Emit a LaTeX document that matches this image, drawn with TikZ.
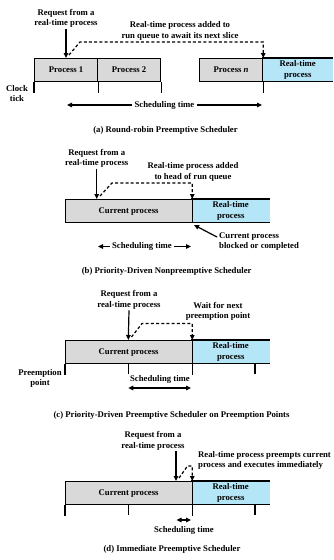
\documentclass[tikz,border=0pt]{standalone}
\usepackage{fontspec}
\setmainfont{Liberation Serif}
\usetikzlibrary{arrows.meta,calc}
\definecolor{procgray}{HTML}{D9D9D9}
\definecolor{rtblue}{HTML}{B4E6F7}
\begin{document}
\begin{tikzpicture}[x=1pt,y=-1pt,
  font=\fontsize{8.7}{10.5}\selectfont\bfseries,
  box/.style={draw=black, line width=1.2pt, fill=procgray, minimum height=23pt,
    inner sep=0pt, align=center, anchor=north west},
  rtbox/.style={draw=none, fill=rtblue, minimum height=23pt, inner sep=0pt,
    align=center, anchor=north west},
  edge/.style={line width=1.2pt},
  tick/.style={line width=1.2pt},
  txt/.style={align=center, inner sep=1pt},
  arr/.style={line width=1.2pt, -{Triangle[length=5pt,width=4.5pt]}},
  dasharr/.style={line width=1.2pt, dash pattern=on 3pt off 2.2pt, -{Triangle[length=5pt,width=4.5pt]}},
  dblarr/.style={line width=1.2pt, {Triangle[length=5pt,width=4.5pt]}-{Triangle[length=5pt,width=4.5pt]}}
]
\useasboundingbox (0,0) rectangle (333,560);

% ---------------- (a) ----------------
\node[box, minimum width=63pt] (a1) at (34,58) {Process 1};
\node[box, minimum width=63pt] (a2) at (97,58) {Process 2};
\node[rtbox, minimum width=71pt] (art) at (262,58) {Real-time\\process};
\node[box, minimum width=63pt] (an) at (199,58) {Process \textit{n}};
\draw[edge] (art.north west) -- (art.north east);
\draw[edge] (art.south west) -- (art.south east);
\draw[tick] (a1.south west) -- ++(0,11);
\draw[tick] (a1.south east) -- ++(0,11);
\draw[tick] (a2.south east) -- ++(0,11);
\draw[tick] (an.south east) -- ++(0,11);
\node[txt] (aclock) at (17,93.5) {Clock\\tick};
\node[txt] (areq) at (66,18.5) {Request from a\\real-time process};
\coordinate (areqtip) at (66,58);
\draw[arr] (areq.south) -- (areqtip);
\node[txt] (aadd) at (180,31) {Real-time process added to\\run queue to await its next slice};
\draw[dasharr] (69,55) -- (80,42) -| (an.north east);
\node[txt, fill=white, inner sep=2pt] (ast) at (164.5,105) {Scheduling time};
\coordinate (asl) at (67,105);
\coordinate (asr) at (262,105);
\draw[arr] (ast.west) -- (asl);
\draw[arr] (ast.east) -- (asr);
\node[txt] (acap) at (165.5,130) {(a) Round-robin Preemptive Scheduler};

% ---------------- (b) ----------------
\node[box, minimum width=126pt] (bcur) at (65,199) {Current process};
\node[rtbox, minimum width=79pt] (brt) at (191,199) {Real-time\\process};
\draw[edge] (brt.north west) -- (brt.north east);
\draw[edge] (brt.south west) -- (brt.south east);
\draw[edge] (bcur.north east) -- (bcur.south east);
\node[txt] (breq) at (96.7,158.5) {Request from a\\real-time process};
\coordinate (breqtip) at (96.7,199);
\draw[arr] (breq.south) -- (breqtip);
\node[txt] (badd) at (193,172) {Real-time process added\\to head of run queue};
\draw[dasharr] (100,196) -- (112,183) -| (bcur.north east);
\node[txt, align=left, anchor=west] (bblk) at (218,241.5) {Current process\\blocked or completed};
\coordinate (bblktip) at (194,225);
\draw[arr] (217,237) -- (bblktip);
\node[txt, inner sep=2pt] (bst) at (142,246.5) {Scheduling time};
\coordinate (bsl) at (98,246.5);
\coordinate (bsr) at (191,246.5);
\draw[arr] (bst.west) -- (bsl);
\draw[arr] (bst.east) -- (bsr);
\node[txt] (bcap) at (166.7,271) {(b) Priority-Driven Nonpreemptive Scheduler};

% ---------------- (c) ----------------
\node[box, minimum width=126pt] (ccur) at (65,340) {Current process};
\node[rtbox, minimum width=79pt] (crt) at (191,340) {Real-time\\process};
\draw[edge] (crt.north west) -- (crt.north east);
\draw[edge] (crt.south west) -- (crt.south east);
\draw[edge] (ccur.north east) -- (ccur.south east);
\draw[tick] (ccur.south west) -- ++(0,11);
\draw[tick] (128.3,363) -- ++(0,11);
\draw[tick] (ccur.south east) -- ++(0,11);
\draw[tick] (255,363) -- ++(0,11);
\node[txt] (cpp) at (40,378.5) {Preemption\\point};
\node[txt] (creq) at (129,300) {Request from a\\real-time process};
\coordinate (creqtip) at (128.3,340);
\draw[arr] (creq.south) -- (creqtip);
\node[txt] (cwait) at (218,311.5) {Wait for next\\preemption point};
\draw[dasharr] (131.5,337) -- (142,323.5) -| (ccur.north east);
\node[txt] (cst) at (160,379) {Scheduling time};
\coordinate (csl) at (128.3,388);
\coordinate (csr) at (191,388);
\draw[dblarr] (csl) -- (csr);
\node[txt] (ccap) at (171.5,415) {(c) Priority-Driven Preemptive Scheduler on Preemption Points};

% ---------------- (d) ----------------
\node[box, minimum width=126pt] (dcur) at (65,481) {Current process};
\node[rtbox, minimum width=79pt] (drt) at (191,481) {Real-time\\process};
\draw[edge] (drt.north west) -- (drt.north east);
\draw[edge] (drt.south west) -- (drt.south east);
\draw[edge] (dcur.north east) -- (dcur.south east);
\draw[tick] (dcur.south west) -- ++(0,11);
\draw[tick] (128.3,504) -- ++(0,11);
\draw[tick] (dcur.south east) -- ++(0,11);
\draw[tick] (255,504) -- ++(0,11);
\node[txt] (dreq) at (153,441) {Request from a\\real-time process};
\coordinate (dreqtip) at (176,481);
\draw[arr] (dreq.south -| dreqtip) -- (dreqtip);
\node[txt, align=left, anchor=west] (dpre) at (197,460.5) {Real-time process preempts current\\process and executes immediately};
\draw[dasharr] (179,478) -- (187.5,466) -| (dcur.north east);
\coordinate (dsl) at (176.5,520);
\coordinate (dsr) at (191,520);
\draw[dblarr] (dsl) -- (dsr);
\node[txt] (dst) at (184,530) {Scheduling time};
\node[txt] (dcap) at (172,549) {(d) Immediate Preemptive Scheduler};
\end{tikzpicture}
\end{document}
